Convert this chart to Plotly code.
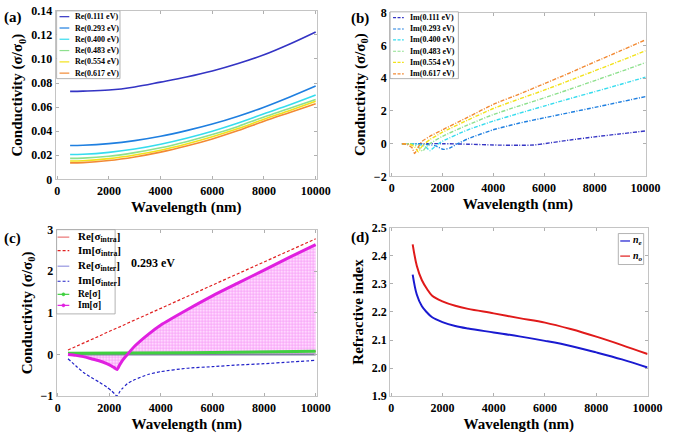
import plotly.graph_objects as go

W, H = 685, 439
FONT = "Liberation Serif, Times New Roman, Times, serif"

# ---------------- Panel (a): Re(sigma) for several chemical potentials ----------------
a_x = [500, 1000, 2000, 3000, 4000, 5000, 6000, 7000, 8000, 9000, 10000]
re_0111 = [0.0731, 0.0733, 0.0742, 0.0768, 0.0808, 0.0850, 0.0900, 0.0962, 0.1035, 0.1125, 0.1225]
re_0293 = [0.0281, 0.0283, 0.0297, 0.0322, 0.0358, 0.0405, 0.0460, 0.0525, 0.0600, 0.0685, 0.0776]
re_0400 = [0.0206, 0.0208, 0.0224, 0.0252, 0.0292, 0.0342, 0.0400, 0.0468, 0.0545, 0.0620, 0.0701]
re_0483 = [0.0174, 0.0176, 0.0192, 0.0222, 0.0262, 0.0313, 0.0372, 0.0440, 0.0518, 0.0590, 0.0664]
re_0554 = [0.0153, 0.0155, 0.0172, 0.0202, 0.0242, 0.0294, 0.0354, 0.0422, 0.0500, 0.0573, 0.0648]
re_0617 = [0.0137, 0.0139, 0.0156, 0.0186, 0.0226, 0.0277, 0.0336, 0.0405, 0.0483, 0.0556, 0.0629]
a_names = ["Re(0.111 eV)", "Re(0.293 eV)", "Re(0.400 eV)", "Re(0.483 eV)", "Re(0.554 eV)", "Re(0.617 eV)"]

# ---------------- Panel (b): Im(sigma) ----------------
im_0111_x = [400, 2000, 3000, 4000, 5000, 5600, 6000, 7000, 8000, 9000, 10000]
im_0111_y = [0.0, 0.0, -0.03, -0.08, -0.10, -0.08, 0.0, 0.22, 0.42, 0.60, 0.78]
im_0293_x = [400, 1200, 1700, 2050, 2300, 2600, 3000, 4000, 5000, 6000, 7000, 8000, 9000, 10000]
im_0293_y = [0.0, -0.02, -0.12, -0.35, -0.25, 0.0, 0.30, 0.85, 1.25, 1.58, 1.90, 2.22, 2.55, 2.88]
im_0400_x = [400, 1000, 1300, 1510, 1650, 1850, 2000, 3000, 4000, 5000, 6000, 7000, 8000, 9000, 10000]
im_0400_y = [0.0, -0.03, -0.15, -0.42, -0.25, 0.0, 0.15, 0.85, 1.38, 1.85, 2.30, 2.75, 3.18, 3.62, 4.07]
im_0483_x = [400, 800, 1050, 1220, 1350, 1500, 2000, 3000, 4000, 5000, 6000, 7000, 8000, 9000, 10000]
im_0483_y = [0.0, -0.03, -0.20, -0.45, -0.20, 0.0, 0.45, 1.15, 1.78, 2.30, 2.80, 3.32, 3.86, 4.40, 4.96]
im_0554_x = [400, 700, 900, 1050, 1150, 1300, 1500, 2000, 3000, 4000, 5000, 6000, 7000, 8000, 9000, 10000]
im_0554_y = [0.0, -0.03, -0.20, -0.50, -0.25, 0.0, 0.25, 0.70, 1.45, 2.15, 2.72, 3.27, 3.86, 4.46, 5.06, 5.68]
im_0617_x = [400, 600, 800, 900, 1000, 1100, 1200, 1500, 2000, 3000, 4000, 5000, 6000, 7000, 8000, 9000, 10000]
im_0617_y = [0.0, -0.05, -0.25, -0.60, -0.35, -0.05, 0.15, 0.45, 0.85, 1.62, 2.40, 3.02, 3.66, 4.32, 5.00, 5.67, 6.35]
b_names = ["Im(0.111 eV)", "Im(0.293 eV)", "Im(0.400 eV)", "Im(0.483 eV)", "Im(0.554 eV)", "Im(0.617 eV)"]

colors = ["#3434c4", "#1f7fe0", "#36dcee", "#8ee08e", "#f2e21a", "#f28a34"]

# ---------------- Panel (c): 0.293 eV components ----------------
c_x = [400, 700, 1000, 1300, 1600, 1900, 2100, 2200, 2300, 2400, 2500, 2700, 3000, 3500,
       4000, 5000, 6000, 7000, 8000, 9000, 10000]
re_intra = [0.028, 0.028, 0.028, 0.029, 0.029, 0.030, 0.030, 0.031, 0.031, 0.031, 0.032, 0.032, 0.032, 0.034,
            0.036, 0.040, 0.046, 0.052, 0.060, 0.068, 0.077]
im_intra = [0.11, 0.19, 0.28, 0.36, 0.44, 0.53, 0.58, 0.61, 0.64, 0.67, 0.69, 0.75, 0.83, 0.97,
            1.11, 1.39, 1.67, 1.94, 2.22, 2.50, 2.78]
re_inter = [0.0, 0.0, 0.0, 0.0, 0.0, 0.0, 0.0, 0.0, 0.0, 0.0, 0.0, 0.0, 0.0, 0.0,
            0.0, 0.0, 0.0, 0.0, 0.0, 0.0, 0.0]
im_inter = [-0.10, -0.27, -0.43, -0.55, -0.66, -0.78, -0.88, -0.94, -1.00, -0.90, -0.82, -0.70, -0.60, -0.48,
            -0.41, -0.33, -0.29, -0.25, -0.22, -0.18, -0.14]
re_total = [0.030, 0.030, 0.031, 0.031, 0.032, 0.032, 0.033, 0.033, 0.034, 0.034, 0.034, 0.035, 0.036, 0.038,
            0.040, 0.045, 0.050, 0.057, 0.064, 0.072, 0.080]
im_total = [0.0, -0.02, -0.05, -0.10, -0.15, -0.22, -0.28, -0.32, -0.36, -0.25, -0.15, 0.0, 0.21, 0.48,
            0.71, 1.07, 1.41, 1.72, 2.03, 2.34, 2.64]
c_names = ["Re[σ<sub>intra</sub>]", "Im[σ<sub>intra</sub>]", "Re[σ<sub>inter</sub>]",
           "Im[σ<sub>inter</sub>]", "Re[σ]", "Im[σ]"]

# ---------------- Panel (d): refractive index ----------------
d_x = [840, 1000, 1200, 1400, 1600, 2000, 2500, 3000, 4000, 5000, 6000, 7000, 8000, 9000, 10000]
n_e = [2.333, 2.262, 2.220, 2.198, 2.181, 2.164, 2.150, 2.141, 2.127, 2.113, 2.097, 2.079, 2.056, 2.031, 2.002]
n_o = [2.441, 2.365, 2.313, 2.282, 2.258, 2.238, 2.222, 2.211, 2.195, 2.178, 2.162, 2.139, 2.112, 2.082, 2.050]
d_names = ["<i>n<sub>e</sub></i>", "<i>n<sub>o</sub></i>"]

x_ticks = [0, 2000, 4000, 6000, 8000, 10000]
x_ticktext = ["0", "2000", "4000", "6000", "8000", "10000"]

DASHDOT = "4px,1.5px,1px,1.5px"
DASH = "3px,2px"

fig = go.Figure()

# (a)
for name, ys, col in zip(a_names, [re_0111, re_0293, re_0400, re_0483, re_0554, re_0617], colors):
    fig.add_trace(go.Scatter(x=a_x, y=ys, mode="lines", name=name, line=dict(color=col, width=1.6, shape="spline"),
                             xaxis="x", yaxis="y", showlegend=False))
# (b)
b_xs = [im_0111_x, im_0293_x, im_0400_x, im_0483_x, im_0554_x, im_0617_x]
b_ys = [im_0111_y, im_0293_y, im_0400_y, im_0483_y, im_0554_y, im_0617_y]
for name, xs, ys, col in zip(b_names, b_xs, b_ys, colors):
    fig.add_trace(go.Scatter(x=xs, y=ys, mode="lines", name=name,
                             line=dict(color=col, width=1.4, dash=DASHDOT, shape="spline", smoothing=0.6),
                             xaxis="x2", yaxis="y2", showlegend=False))
# (c)
fig.add_trace(go.Scatter(x=c_x, y=im_total, mode="lines", line=dict(width=0, shape="spline", smoothing=0.6),
                         fill="tozeroy",
                         fillcolor="rgba(255,190,255,0.45)",
                         fillpattern=dict(shape="+", fgcolor="rgba(230,40,230,0.8)", bgcolor="rgba(255,200,255,0.7)",
                                          size=3, solidity=0.35),
                         xaxis="x3", yaxis="y3", showlegend=False, hoverinfo="skip"))
c_styles = [
    (re_intra, dict(color="#e03030", width=1)),
    (im_intra, dict(color="#e02020", width=1.2, dash=DASH)),
    (re_inter, dict(color="#8080a0", width=2)),
    (im_inter, dict(color="#2020c8", width=1.2, dash=DASH, shape="spline", smoothing=0.5)),
    (re_total, dict(color="#40d040", width=3)),
    (im_total, dict(color="#e020e0", width=3, shape="spline", smoothing=0.6)),
]
for name, (ys, ln) in zip(c_names, c_styles):
    fig.add_trace(go.Scatter(x=c_x, y=ys, mode="lines", name=name, line=ln,
                             xaxis="x3", yaxis="y3", showlegend=False))
# (d)
fig.add_trace(go.Scatter(x=d_x, y=n_e, mode="lines", line=dict(color="#1a1ad0", width=2, shape="spline"),
                         xaxis="x4", yaxis="y4", showlegend=False))
fig.add_trace(go.Scatter(x=d_x, y=n_o, mode="lines", line=dict(color="#e01a1a", width=2, shape="spline"),
                         xaxis="x4", yaxis="y4", showlegend=False))

tickfont = dict(family=FONT, size=12, color="black", weight="bold")
titlefont = dict(family=FONT, size=15, color="black", weight="bold")


def ax(domain, rng, anchor, title=None, **kw):
    d = dict(domain=domain, range=rng, anchor=anchor, showgrid=False, zeroline=False,
             showline=True, linecolor="#c4c4c4", linewidth=1, mirror="allticks",
             ticks="inside", ticklen=3, tickcolor="#b0b0b0", tickfont=tickfont)
    if title:
        d["title"] = dict(text=title, font=titlefont, standoff=4)
    d.update(kw)
    return d


cond = "Conductivity (σ/σ<sub>0</sub>)"
wl = "Wavelength (nm)"

fig.update_layout(
    width=W, height=H, margin=dict(l=0, r=0, t=0, b=0),
    paper_bgcolor="white", plot_bgcolor="white",
    font=dict(family=FONT, color="black"),
    hovermode=False,
    xaxis=ax([0.0803, 0.4715], [-60, 10050], "y", wl, tickvals=x_ticks, ticktext=x_ticktext),
    yaxis=ax([0.5945, 0.9909], [0, 0.14], "x", cond,
             tickvals=[0, 0.02, 0.04, 0.06, 0.08, 0.10, 0.12, 0.14],
             ticktext=["0", "0.02", "0.04", "0.06", "0.08", "0.10", "0.12", "0.14"]),
    xaxis2=ax([0.581, 0.9635], [-65, 10000], "y2", wl, tickvals=x_ticks, ticktext=x_ticktext),
    yaxis2=ax([0.6014, 0.9863], [-2, 8], "x2", cond, tickvals=[-2, 0, 2, 4, 6, 8]),
    xaxis3=ax([0.0818, 0.4715], [-40, 10050], "y3", wl, tickvals=x_ticks, ticktext=x_ticktext),
    yaxis3=ax([0.0843, 0.4761], [-1, 3], "x3", cond, tickvals=[-1, 0, 1, 2, 3]),
    xaxis4=ax([0.581, 0.9664], [-40, 10000], "y4", wl, tickvals=x_ticks, ticktext=x_ticktext),
    yaxis4=ax([0.0843, 0.4806], [1.9, 2.5], "x4", "Refractive index",
              tickvals=[1.9, 2.0, 2.1, 2.2, 2.3, 2.4, 2.5],
              ticktext=["1.9", "2.0", "2.1", "2.2", "2.3", "2.4", "2.5"]),
)


def px(x):
    return x / W


def py(y):
    return 1 - y / H


shapes = []
annots = []


def legend_box(x0, y0, x1, y1, rows, names, styles, sym_x0, sym_x1, text_x, fsizes, marker_rows=()):
    shapes.append(dict(type="rect", xref="paper", yref="paper", x0=px(x0), x1=px(x1), y0=py(y0), y1=py(y1),
                       line=dict(color="#a0a0a0", width=0.8), fillcolor="white", layer="above"))
    for i, (yy, name, st, fs) in enumerate(zip(rows, names, styles, fsizes)):
        shapes.append(dict(type="line", xref="paper", yref="paper", x0=px(sym_x0), x1=px(sym_x1),
                           y0=py(yy), y1=py(yy), line=st, layer="above"))
        if i in marker_rows:
            cx = (sym_x0 + sym_x1) / 2
            shapes.append(dict(type="circle", xref="paper", yref="paper", x0=px(cx - 1.6), x1=px(cx + 1.6),
                               y0=py(yy - 1.6), y1=py(yy + 1.6), line=dict(color=st["color"], width=0.5),
                               fillcolor=st["color"], layer="above"))
        annots.append(dict(text=name, xref="paper", yref="paper", x=px(text_x), y=py(yy), xanchor="left",
                           yanchor="middle", showarrow=False,
                           font=dict(family=FONT, size=fs, color="black", weight="bold")))


# legend (a)
legend_box(56, 4, 121, 74, [10, 21.7, 33.3, 45, 56.7, 68.3], a_names,
           [dict(color=c, width=1.2) for c in colors], 59, 69, 73, [8] * 6)
# legend (b)
legend_box(398, 5, 468, 74, [11, 22.7, 34, 45.7, 57.3, 69], b_names,
           [dict(color=c, width=1.2, dash="3px,1.5px") for c in colors], 401, 412, 416, [8] * 6)
# legend (c)
legend_box(56, 230, 116, 317, [237.7, 251.7, 267.7, 283.3, 296.8, 308.2], c_names,
           [dict(color="#e03030", width=0.8), dict(color="#e02020", width=1.2, dash=DASH),
            dict(color="#6060d0", width=0.8), dict(color="#2020c8", width=1.2, dash=DASH),
            dict(color="#40d040", width=1.2), dict(color="#e020e0", width=1.2)],
           57, 69, 75.5, [11, 11, 11, 11, 9.5, 9.5], marker_rows=(4, 5))
# legend (d)
legend_box(632, 234, 658, 266, [241.7, 257.3], d_names,
           [dict(color="#1a1ad0", width=1.2), dict(color="#e01a1a", width=1.2)], 634, 644, 644.5, [10, 10])

# panel labels
for lbl, xx, yy in [("(a)", 0, 0), ("(b)", 356, 1), ("(c)", 0, 228), ("(d)", 356, 227)]:
    annots.append(dict(text=lbl, xref="paper", yref="paper", x=px(xx), y=py(yy), xanchor="left", yanchor="top",
                       showarrow=False, font=dict(family=FONT, size=15, color="black", weight="bold")))

# energy label (c)
annots.append(dict(text="0.293 eV", xref="x3", yref="y3", x=2750, y=2.2, xanchor="left", yanchor="middle",
                   showarrow=False, font=dict(family=FONT, size=12, color="black", weight="bold")))

fig.update_layout(shapes=shapes, annotations=annots)
fig.write_html("out.html", config={"displayModeBar": False},
               post_script="document.body.style.margin='0px';document.body.style.padding='0px';")
